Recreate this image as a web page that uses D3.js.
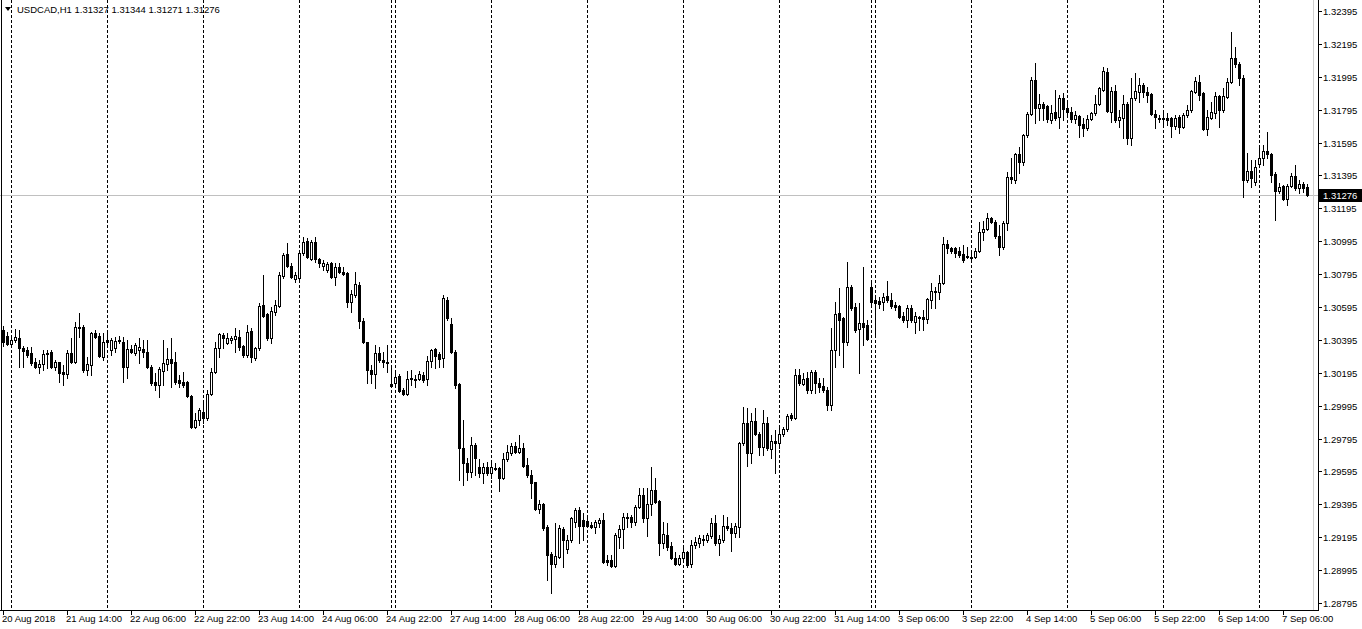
<!DOCTYPE html>
<html><head><meta charset="utf-8">
<script src="https://cdn.jsdelivr.net/npm/d3@7"></script>
<style>
body{margin:0;background:#fff;}
svg{display:block;}
text{font-family:"Liberation Sans",Arial,sans-serif;font-size:9.5px;fill:#000;}
</style>
</head><body>
<svg id="chart" width="1362" height="629"></svg>
<script>
const symbolTitle = "USDCAD,H1";
// trading sessions: [date label, first hour, last hour]
const sessions = [
 ["20 Aug",22,23],["21 Aug",0,23],["22 Aug",0,23],["23 Aug",0,23],["24 Aug",0,22],["26 Aug",23,23],
 ["27 Aug",0,23],["28 Aug",0,23],["29 Aug",0,23],["30 Aug",0,23],["31 Aug",0,22],["2 Sep",23,23],
 ["3 Sep",0,23],["4 Sep",0,23],["5 Sep",0,23],["6 Sep",0,23],["7 Sep",0,12]
];
const open = [
1.30456,1.30419,1.30370,1.30395,1.30407,1.30346,1.30334,1.30316,1.30261,1.30231,
1.30249,1.30310,1.30322,1.30231,1.30261,1.30200,1.30188,1.30316,1.30261,1.30474,
1.30474,1.30212,1.30243,1.30437,1.30419,1.30291,1.30395,1.30334,1.30346,1.30395,
1.30383,1.30231,1.30340,1.30316,1.30334,1.30340,1.30322,1.30231,1.30139,1.30121,
1.30206,1.30249,1.30279,1.30261,1.30152,1.30139,1.30139,1.30054,1.29866,1.29908,
1.29957,1.29921,1.30066,1.30200,1.30346,1.30425,1.30377,1.30395,1.30401,1.30413,
1.30358,1.30304,1.30450,1.30285,1.30346,1.30608,1.30553,1.30407,1.30565,1.30601,
1.30784,1.30918,1.30845,1.30766,1.30772,1.30924,1.30997,1.30887,1.30991,1.30887,
1.30845,1.30820,1.30863,1.30778,1.30839,1.30808,1.30802,1.30626,1.30668,1.30729,
1.30510,1.30383,1.30212,1.30188,1.30316,1.30273,1.30261,1.30127,1.30133,1.30176,
1.30091,1.30066,1.30158,1.30158,1.30158,1.30182,1.30158,1.30267,1.30340,1.30310,
1.30285,1.30638,1.30492,1.30322,1.30127,1.29738,1.29647,1.29592,1.29756,1.29623,
1.29586,1.29623,1.29586,1.29617,1.29617,1.29556,1.29671,1.29708,1.29750,1.29714,
1.29738,1.29635,1.29574,1.29531,1.29367,1.29398,1.29258,1.29094,1.29033,1.29075,
1.29246,1.29124,1.29179,1.29288,1.29361,1.29300,1.29294,1.29270,1.29258,1.29282,
1.29300,1.29057,1.29057,1.29021,1.29197,1.29246,1.29319,1.29319,1.29288,1.29379,
1.29452,1.29313,1.29398,1.29483,1.29416,1.29161,1.29209,1.29142,1.29069,1.29033,
1.29069,1.29106,1.29033,1.29148,1.29161,1.29179,1.29179,1.29203,1.29282,1.29161,
1.29179,1.29264,1.29252,1.29221,1.29258,1.29769,1.29890,1.29708,1.29902,1.29823,
1.29744,1.29890,1.29732,1.29781,1.29769,1.29823,1.29854,1.29939,1.29921,1.30182,
1.30127,1.30164,1.30091,1.30200,1.30133,1.30115,1.30091,1.29999,1.30334,1.30559,
1.30529,1.30383,1.30717,1.30595,1.30462,1.30498,1.30486,1.30717,1.30638,1.30632,
1.30626,1.30662,1.30638,1.30608,1.30601,1.30541,1.30516,1.30589,1.30504,1.30535,
1.30535,1.30522,1.30638,1.30693,1.30687,1.30741,1.30979,1.30954,1.30954,1.30936,
1.30918,1.30906,1.30899,1.30899,1.30936,1.31051,1.31070,1.31137,1.31112,1.31027,
1.30960,1.31106,1.31386,1.31368,1.31526,1.31477,1.31641,1.31769,1.31976,1.31805,
1.31830,1.31817,1.31732,1.31781,1.31751,1.31866,1.31805,1.31781,1.31738,1.31757,
1.31708,1.31684,1.31738,1.31775,1.31830,1.31915,1.32024,1.31781,1.31909,1.31732,
1.31745,1.31830,1.31623,1.31866,1.31903,1.31945,1.31903,1.31890,1.31769,1.31745,
1.31738,1.31745,1.31745,1.31696,1.31751,1.31690,1.31763,1.31793,1.31903,1.31963,
1.31897,1.31678,1.31745,1.31775,1.31878,1.31793,1.31872,1.31963,1.32109,1.32073,
1.31988,1.31368,1.31422,1.31355,1.31465,1.31501,1.31544,1.31526,1.31404,1.31301,
1.31331,1.31252,1.31331,1.31392,1.31319,1.31343,1.31327];
const high = [
1.30480,1.30443,1.30407,1.30462,1.30456,1.30358,1.30352,1.30352,1.30285,1.30273,
1.30334,1.30334,1.30334,1.30273,1.30261,1.30243,1.30334,1.30407,1.30504,1.30559,
1.30486,1.30291,1.30443,1.30456,1.30437,1.30437,1.30437,1.30407,1.30413,1.30419,
1.30413,1.30395,1.30364,1.30377,1.30407,1.30395,1.30395,1.30243,1.30194,1.30231,
1.30395,1.30346,1.30407,1.30322,1.30182,1.30200,1.30146,1.30060,1.29951,1.29981,
1.30018,1.30091,1.30225,1.30383,1.30437,1.30437,1.30437,1.30419,1.30468,1.30456,
1.30364,1.30486,1.30468,1.30352,1.30620,1.30790,1.30559,1.30595,1.30638,1.30808,
1.30924,1.30985,1.30863,1.30808,1.30930,1.31021,1.31015,1.31003,1.31021,1.30893,
1.30881,1.30869,1.30869,1.30863,1.30863,1.30839,1.30808,1.30699,1.30808,1.30747,
1.30529,1.30383,1.30243,1.30364,1.30352,1.30322,1.30364,1.30243,1.30194,1.30188,
1.30103,1.30206,1.30212,1.30182,1.30206,1.30200,1.30298,1.30340,1.30346,1.30322,
1.30668,1.30656,1.30529,1.30334,1.30133,1.29908,1.29677,1.29805,1.29769,1.29671,
1.29647,1.29653,1.29653,1.29647,1.29623,1.29708,1.29756,1.29769,1.29775,1.29817,
1.29769,1.29677,1.29604,1.29531,1.29422,1.29404,1.29270,1.29106,1.29282,1.29270,
1.29258,1.29209,1.29319,1.29373,1.29379,1.29343,1.29313,1.29288,1.29300,1.29313,
1.29343,1.29088,1.29088,1.29221,1.29270,1.29343,1.29343,1.29331,1.29392,1.29495,
1.29495,1.29495,1.29623,1.29556,1.29422,1.29288,1.29282,1.29167,1.29106,1.29088,
1.29130,1.29112,1.29179,1.29197,1.29209,1.29209,1.29221,1.29313,1.29331,1.29209,
1.29331,1.29319,1.29282,1.29282,1.29775,1.29987,1.29981,1.29951,1.29981,1.29835,
1.29969,1.29927,1.29817,1.29848,1.29878,1.29866,1.29945,1.29951,1.30219,1.30219,
1.30194,1.30200,1.30212,1.30212,1.30164,1.30164,1.30109,1.30468,1.30626,1.30711,
1.30535,1.30869,1.30729,1.30620,1.30620,1.30839,1.30516,1.30741,1.30650,1.30656,
1.30681,1.30754,1.30681,1.30626,1.30608,1.30565,1.30608,1.30608,1.30565,1.30541,
1.30577,1.30650,1.30741,1.30717,1.30790,1.31021,1.31003,1.30960,1.30960,1.30960,
1.30972,1.30960,1.30942,1.30954,1.31112,1.31118,1.31167,1.31143,1.31124,1.31094,
1.31118,1.31416,1.31501,1.31532,1.31568,1.31647,1.31781,1.31994,1.32079,1.31890,
1.31842,1.31824,1.31824,1.31915,1.31884,1.31897,1.31842,1.31811,1.31787,1.31763,
1.31745,1.31763,1.31781,1.31884,1.31933,1.32055,1.32049,1.31933,1.31945,1.31793,
1.31884,1.31842,1.31988,1.32018,1.31988,1.31957,1.31933,1.31897,1.31793,1.31763,
1.31775,1.31775,1.31751,1.31763,1.31763,1.31775,1.31824,1.31915,1.31994,1.32006,
1.31903,1.31793,1.31842,1.31903,1.31884,1.31927,1.31988,1.32267,1.32176,1.32085,
1.32006,1.31532,1.31489,1.31489,1.31568,1.31580,1.31659,1.31532,1.31416,1.31349,
1.31337,1.31343,1.31410,1.31459,1.31368,1.31355,1.31344];
const low = [
1.30358,1.30364,1.30352,1.30383,1.30231,1.30231,1.30291,1.30243,1.30225,1.30194,
1.30212,1.30225,1.30225,1.30212,1.30139,1.30121,1.30164,1.30255,1.30255,1.30413,
1.30200,1.30182,1.30182,1.30407,1.30291,1.30273,1.30364,1.30304,1.30322,1.30377,
1.30139,1.30164,1.30316,1.30304,1.30255,1.30291,1.30225,1.30121,1.30091,1.30048,
1.30121,1.30212,1.30109,1.30127,1.30109,1.30109,1.30048,1.29860,1.29860,1.29878,
1.29890,1.29908,1.30060,1.30194,1.30291,1.30346,1.30370,1.30377,1.30322,1.30334,
1.30291,1.30291,1.30261,1.30273,1.30334,1.30535,1.30395,1.30377,1.30547,1.30595,
1.30772,1.30839,1.30772,1.30747,1.30747,1.30912,1.30893,1.30881,1.30869,1.30839,
1.30820,1.30808,1.30772,1.30729,1.30802,1.30790,1.30595,1.30565,1.30656,1.30468,
1.30377,1.30133,1.30133,1.30103,1.30261,1.30231,1.30200,1.30109,1.30121,1.30079,
1.30060,1.30060,1.30121,1.30109,1.30152,1.30139,1.30121,1.30231,1.30225,1.30231,
1.30231,1.30516,1.30316,1.30103,1.29544,1.29513,1.29544,1.29562,1.29574,1.29562,
1.29525,1.29574,1.29556,1.29604,1.29477,1.29550,1.29659,1.29696,1.29708,1.29708,
1.29623,1.29562,1.29434,1.29361,1.29343,1.29240,1.28936,1.28857,1.29015,1.29069,
1.29015,1.29100,1.29167,1.29258,1.29161,1.29179,1.29258,1.29252,1.29221,1.29258,
1.29039,1.29027,1.29015,1.29015,1.29130,1.29130,1.29258,1.29258,1.29270,1.29373,
1.29288,1.29203,1.29331,1.29404,1.29088,1.29130,1.29118,1.29063,1.29027,1.29027,
1.29051,1.29015,1.29015,1.29130,1.29136,1.29148,1.29167,1.29191,1.29148,1.29088,
1.29167,1.29240,1.29112,1.29197,1.29197,1.29756,1.29629,1.29647,1.29817,1.29696,
1.29696,1.29726,1.29677,1.29586,1.29738,1.29811,1.29842,1.29908,1.29915,1.30121,
1.30121,1.30073,1.30073,1.30073,1.30079,1.30079,1.29969,1.29969,1.30231,1.30304,
1.30231,1.30364,1.30577,1.30443,1.30194,1.30364,1.30395,1.30608,1.30425,1.30589,
1.30577,1.30626,1.30589,1.30577,1.30529,1.30504,1.30474,1.30504,1.30437,1.30456,
1.30456,1.30498,1.30589,1.30589,1.30644,1.30735,1.30924,1.30924,1.30899,1.30899,
1.30869,1.30893,1.30881,1.30893,1.30930,1.31003,1.31064,1.31106,1.31015,1.30912,
1.30948,1.31064,1.31349,1.31349,1.31410,1.31459,1.31629,1.31763,1.31714,1.31732,
1.31732,1.31720,1.31714,1.31732,1.31684,1.31732,1.31763,1.31720,1.31714,1.31629,
1.31635,1.31672,1.31732,1.31763,1.31824,1.31909,1.31781,1.31720,1.31720,1.31690,
1.31623,1.31586,1.31580,1.31854,1.31842,1.31872,1.31842,1.31763,1.31684,1.31720,
1.31702,1.31702,1.31629,1.31678,1.31653,1.31684,1.31751,1.31781,1.31897,1.31854,
1.31672,1.31641,1.31738,1.31745,1.31690,1.31781,1.31866,1.31957,1.32055,1.31945,
1.31264,1.31355,1.31325,1.31337,1.31447,1.31459,1.31501,1.31355,1.31124,1.31289,
1.31246,1.31216,1.31325,1.31307,1.31289,1.31295,1.31271];
const close = [
1.30383,1.30370,1.30395,1.30413,1.30346,1.30328,1.30304,1.30255,1.30231,1.30249,
1.30310,1.30316,1.30231,1.30261,1.30194,1.30188,1.30316,1.30261,1.30474,1.30468,
1.30212,1.30249,1.30437,1.30413,1.30298,1.30383,1.30383,1.30395,1.30389,1.30389,
1.30231,1.30340,1.30322,1.30364,1.30352,1.30322,1.30231,1.30133,1.30121,1.30219,
1.30255,1.30279,1.30255,1.30139,1.30133,1.30121,1.30054,1.29866,1.29908,1.29969,
1.29921,1.30066,1.30200,1.30346,1.30431,1.30407,1.30407,1.30407,1.30419,1.30352,
1.30304,1.30443,1.30291,1.30346,1.30601,1.30541,1.30407,1.30571,1.30608,1.30790,
1.30912,1.30845,1.30778,1.30790,1.30924,1.30991,1.30899,1.30991,1.30887,1.30863,
1.30863,1.30857,1.30778,1.30839,1.30808,1.30796,1.30626,1.30675,1.30735,1.30510,
1.30383,1.30212,1.30188,1.30316,1.30273,1.30261,1.30255,1.30115,1.30170,1.30085,
1.30066,1.30158,1.30164,1.30152,1.30188,1.30152,1.30267,1.30334,1.30298,1.30279,
1.30650,1.30529,1.30322,1.30121,1.29738,1.29647,1.29592,1.29756,1.29677,1.29586,
1.29623,1.29586,1.29623,1.29611,1.29556,1.29671,1.29714,1.29750,1.29714,1.29738,
1.29629,1.29574,1.29525,1.29367,1.29398,1.29252,1.29088,1.29033,1.29081,1.29252,
1.29179,1.29179,1.29313,1.29361,1.29264,1.29264,1.29264,1.29258,1.29288,1.29300,
1.29045,1.29045,1.29021,1.29209,1.29246,1.29319,1.29313,1.29288,1.29379,1.29452,
1.29313,1.29398,1.29483,1.29410,1.29161,1.29215,1.29136,1.29069,1.29033,1.29069,
1.29106,1.29027,1.29148,1.29167,1.29191,1.29185,1.29209,1.29282,1.29161,1.29185,
1.29264,1.29252,1.29221,1.29264,1.29769,1.29890,1.29708,1.29902,1.29823,1.29744,
1.29890,1.29738,1.29781,1.29769,1.29823,1.29854,1.29933,1.29921,1.30182,1.30133,
1.30158,1.30091,1.30200,1.30133,1.30109,1.30091,1.29999,1.30334,1.30553,1.30516,
1.30383,1.30717,1.30589,1.30456,1.30498,1.30474,1.30401,1.30626,1.30620,1.30614,
1.30656,1.30638,1.30601,1.30595,1.30535,1.30516,1.30589,1.30516,1.30541,1.30529,
1.30522,1.30644,1.30693,1.30687,1.30741,1.30979,1.30954,1.30936,1.30924,1.30912,
1.30881,1.30899,1.30893,1.30936,1.31051,1.31070,1.31137,1.31112,1.31027,1.30960,
1.31106,1.31386,1.31374,1.31526,1.31477,1.31641,1.31769,1.31976,1.31805,1.31830,
1.31805,1.31738,1.31775,1.31745,1.31866,1.31799,1.31781,1.31738,1.31763,1.31702,
1.31684,1.31738,1.31775,1.31830,1.31927,1.32030,1.31787,1.31909,1.31732,1.31751,
1.31830,1.31623,1.31866,1.31909,1.31945,1.31903,1.31884,1.31769,1.31751,1.31738,
1.31745,1.31732,1.31696,1.31745,1.31690,1.31763,1.31793,1.31909,1.31970,1.31884,
1.31678,1.31751,1.31781,1.31878,1.31793,1.31878,1.31963,1.32109,1.32073,1.31988,
1.31368,1.31422,1.31380,1.31447,1.31501,1.31544,1.31526,1.31398,1.31301,1.31325,
1.31252,1.31331,1.31392,1.31319,1.31343,1.31319,1.31276];
const yTickValues = [1.32395,1.32195,1.31995,1.31795,1.31595,1.31395,1.31195,1.30995,1.30795,1.30595,
 1.30395,1.30195,1.29995,1.29795,1.29595,1.29395,1.29195,1.28995,1.28795];
const xTickLabels = ["20 Aug 2018","21 Aug 14:00","22 Aug 06:00","22 Aug 22:00","23 Aug 14:00","24 Aug 06:00",
 "24 Aug 22:00","27 Aug 14:00","28 Aug 06:00","28 Aug 22:00","29 Aug 14:00","30 Aug 06:00","30 Aug 22:00",
 "31 Aug 14:00","3 Sep 06:00","3 Sep 22:00","4 Sep 14:00","5 Sep 06:00","5 Sep 22:00","6 Sep 14:00","7 Sep 06:00"];
const xTickEvery = 16;
const lastPrice = 1.31276;

// ---- build bars ----
const bars = [];
sessions.forEach(([day, h0, h1]) => { for (let h = h0; h <= h1; h++) bars.push({day, hour: h}); });
bars.forEach((b, i) => { b.i = i; b.o = open[i]; b.h = high[i]; b.l = low[i]; b.c = close[i]; });

const svg = d3.select("#chart");
const W = 1362, H = 629;
const plotRight = 1318, plotBottom = 610;
const x = d3.scaleLinear().domain([0, bars.length - 1]).range([3, 3 + 4 * (bars.length - 1)]);
const y = d3.scaleLinear().domain([1.28795, 1.32395]).range([603, 11]);
const py = v => Math.round(y(v));

svg.append("rect").attr("width", W).attr("height", H).attr("fill", "#fff");

// period separators (day starts)
const seps = bars.filter((b, i) => i > 0 && b.day !== bars[i - 1].day);
svg.append("g").selectAll("line").data(seps).join("line")
  .attr("x1", d => x(d.i) + 0.5).attr("x2", d => x(d.i) + 0.5)
  .attr("y1", 0).attr("y2", plotBottom)
  .attr("stroke", "#000").attr("stroke-width", 1).attr("stroke-dasharray", "3,2");

// current price line
svg.append("line").attr("x1", 0).attr("x2", plotRight)
  .attr("y1", py(lastPrice) + 0.5).attr("y2", py(lastPrice) + 0.5)
  .attr("stroke", "#c0c0c0").attr("stroke-width", 1);
// chart shift marker
svg.append("line").attr("x1", 1313.5).attr("x2", 1313.5).attr("y1", 0).attr("y2", plotBottom)
  .attr("stroke", "#d0d0d0").attr("stroke-width", 1);

// candles
const g = svg.append("g");
g.selectAll("line.w").data(bars).join("line").attr("class", "w")
  .attr("x1", d => x(d.i) + 0.5).attr("x2", d => x(d.i) + 0.5)
  .attr("y1", d => py(d.h)).attr("y2", d => py(d.l) + 1)
  .attr("stroke", "#000").attr("stroke-width", 1);
g.selectAll("rect.b").data(bars).join("rect").attr("class", "b")
  .each(function (d) {
    const top = py(Math.max(d.o, d.c)), bot = py(Math.min(d.o, d.c));
    const s = d3.select(this);
    if (d.c > d.o && bot - top >= 2) {
      s.attr("x", x(d.i) - 0.5).attr("y", top + 0.5).attr("width", 2).attr("height", bot - top)
       .attr("fill", "#fff").attr("stroke", "#000").attr("stroke-width", 1);
    } else {
      s.attr("x", x(d.i) - 1).attr("y", top).attr("width", 3).attr("height", bot - top + 1)
       .attr("fill", "#000");
    }
  });

// frame
svg.append("line").attr("x1", 1.5).attr("x2", 1.5).attr("y1", 0).attr("y2", plotBottom + 1).attr("stroke", "#000");
svg.append("line").attr("x1", plotRight + 0.5).attr("x2", plotRight + 0.5).attr("y1", 0).attr("y2", plotBottom + 1).attr("stroke", "#000");
svg.append("line").attr("x1", 0).attr("x2", plotRight + 1).attr("y1", plotBottom + 0.5).attr("y2", plotBottom + 0.5).attr("stroke", "#000");

// y axis
const ya = svg.append("g");
yTickValues.forEach(v => {
  const yy = py(v);
  ya.append("line").attr("x1", plotRight + 1).attr("x2", plotRight + 4).attr("y1", yy + 0.5).attr("y2", yy + 0.5).attr("stroke", "#000");
  ya.append("text").attr("x", 1323).attr("y", yy + 3.5).text(v.toFixed(5));
});
// price tag
const ly = py(lastPrice);
svg.append("rect").attr("x", plotRight + 1).attr("y", ly - 6).attr("width", W - plotRight - 1).attr("height", 13).attr("fill", "#000");
svg.append("text").attr("x", 1323).attr("y", ly + 4).style("fill", "#fff").text(lastPrice.toFixed(5));

// x axis
const xa = svg.append("g");
const xTicks = bars.filter(b => b.i % xTickEvery === 0);
xTicks.forEach((b, k) => {
  const xx = x(b.i);
  xa.append("line").attr("x1", xx + 0.5).attr("x2", xx + 0.5).attr("y1", plotBottom + 1).attr("y2", plotBottom + 5).attr("stroke", "#000");
  xa.append("text").attr("x", xx - 1).attr("y", 622).text(xTickLabels[k]);
});

// header
svg.append("path").attr("d", "M5,7 L11,7 L8,11 Z").attr("fill", "#000");
svg.append("text").attr("x", 17).attr("y", 13).text(symbolTitle + "  " + [open, high, low, close].map(a => a[a.length - 1].toFixed(5)).join(" "));
</script>
</body></html>
